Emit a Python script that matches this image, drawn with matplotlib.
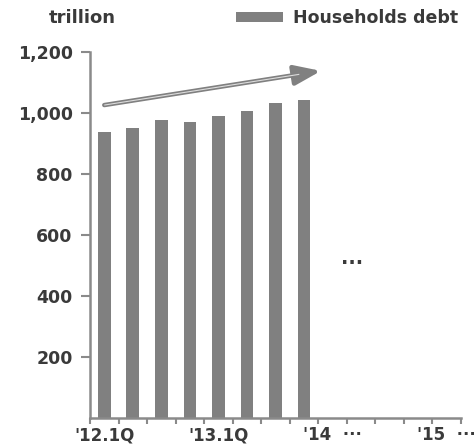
# -*- coding: utf-8 -*-
import numpy as np
import matplotlib
matplotlib.use("Agg")
import matplotlib.pyplot as plt


# Quarterly household debt, trillion.
quarters = ["12.1Q", "12.2Q", "12.3Q", "12.4Q",
            "13.1Q", "13.2Q", "13.3Q", "13.4Q"]
debt = [938, 952, 976, 970, 990, 1005, 1032, 1041]

# Category slots on the x axis (8 filled, the rest left empty).
n_slots = 13
label_pos = [0, 4, 8, 12]
label_text = ["'12.1Q", "'13.1Q", "'14  \u00b7\u00b7\u00b7", "'15  \u00b7\u00b7\u00b7"]
y_ticks = [200, 400, 600, 800, 1000, 1200]

# Trend arrow, in data units.
trend_start = (0.0, 1026)
trend_end = (7.6, 1138)

BAR = "#808080"
TEXT = "#3a3a3a"
AXIS = "#8a8a8a"

plt.rcParams["font.family"] = ["DejaVu Sans"]
plt.rcParams["font.weight"] = "bold"

fig = plt.figure(figsize=(4.76, 4.48), dpi=100)
ax = fig.add_axes([90 / 476, 30 / 448, (460.7 - 90) / 476, (418 - 52) / 448])

x = np.arange(len(debt))
ax.bar(x, debt, width=0.44, color=BAR, label="Households debt", zorder=2)

ax.set_xlim(-0.5, n_slots - 0.5)
ax.set_ylim(0, 1200)

# Slot boundaries carry the tick marks, labels sit between them.
ax.set_xticks(np.arange(n_slots + 1) - 0.5, minor=True)
ax.set_xticks(label_pos)
ax.set_xticklabels(label_text, fontsize=12, fontweight="bold", color=TEXT)
ax.tick_params(axis="x", which="major", length=0, pad=6)
ax.tick_params(axis="x", which="minor", length=4.5, width=1.5, color=AXIS,
               direction="out")

ax.set_yticks(y_ticks)
ax.set_yticklabels([f"{v:,}" for v in y_ticks], fontsize=12.5,
                   fontweight="bold", color=TEXT)
ax.tick_params(axis="y", length=6.5, width=1.5, color=AXIS, pad=6)

for side in ("top", "right"):
    ax.spines[side].set_visible(False)
for side in ("left", "bottom"):
    ax.spines[side].set_color(AXIS)
    ax.spines[side].set_linewidth(1.8)

# Rising trend arrow with a light core on the shaft.
ax.annotate("", xy=trend_end, xytext=trend_start,
            arrowprops=dict(arrowstyle="-|>,head_length=1.6,head_width=0.6",
                            color=BAR, lw=3.2, mutation_scale=10,
                            shrinkA=0, shrinkB=0), zorder=3)
frac = 0.9
ax.plot([trend_start[0], trend_start[0] + frac * (trend_end[0] - trend_start[0])],
        [trend_start[1], trend_start[1] + frac * (trend_end[1] - trend_start[1])],
        color="#dcdcdc", lw=0.8, zorder=4, solid_capstyle="butt")

ax.text(8.7, 505, "\u00b7\u00b7\u00b7", fontsize=14, fontweight="bold",
        color=TEXT, ha="center", va="center")

fig.text(49 / 476, 1 - 18 / 448, "trillion", fontsize=13, fontweight="bold",
         color=TEXT, ha="left", va="center")
fig.legend(loc="center right", bbox_to_anchor=(458 / 476, 1 - 18 / 448),
           frameon=False, prop={"weight": "bold", "size": 12.5},
           handlelength=2.7, handleheight=0.55, handletextpad=0.55,
           borderpad=0, borderaxespad=0, labelcolor=TEXT)

fig.savefig("out.png", dpi=100)
